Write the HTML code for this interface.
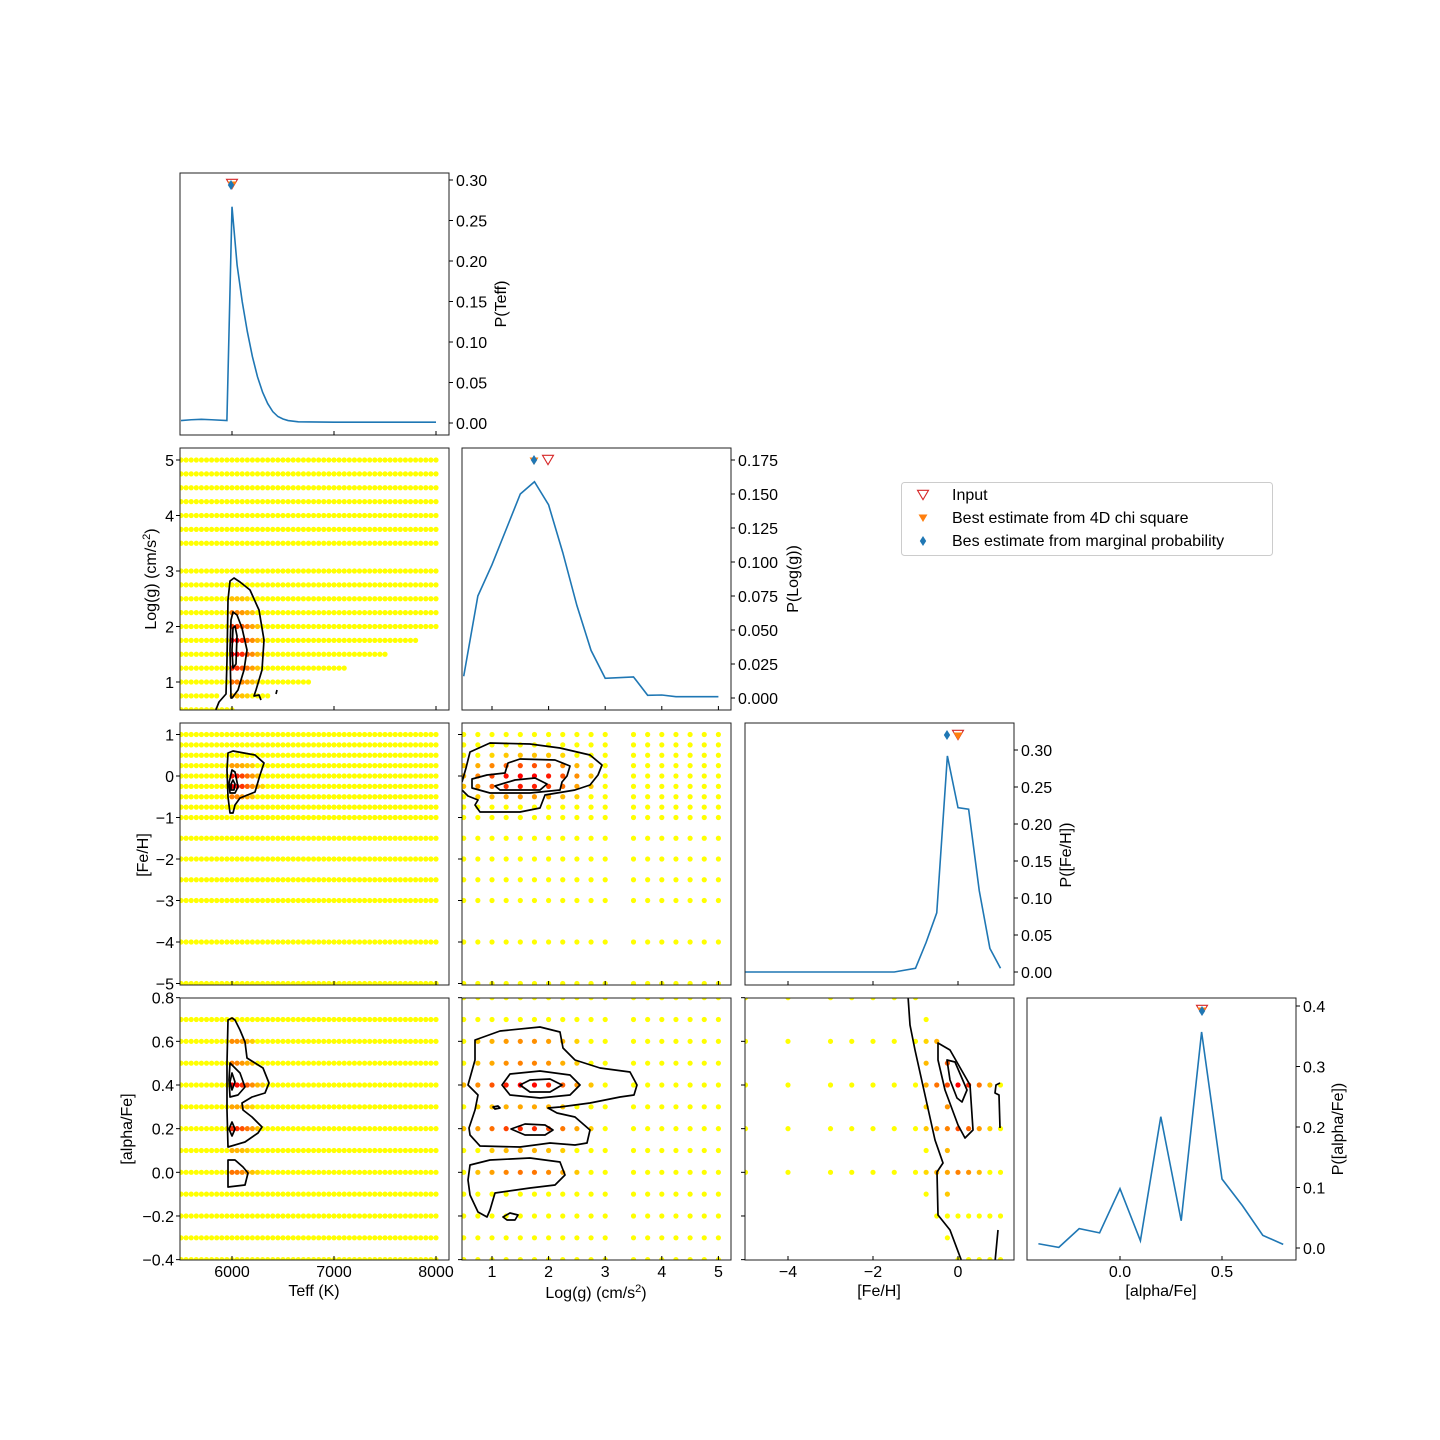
<!DOCTYPE html>
<html><head><meta charset="utf-8"><style>
html,body{margin:0;padding:0;background:#fff;}
svg{display:block;font-family:"Liberation Sans","DejaVu Sans",sans-serif;}
</style></head><body>
<svg id="s" width="1440" height="1440" viewBox="0 0 1440 1440" xmlns="http://www.w3.org/2000/svg">
<text x="0" y="-10">.</text>
</svg>
<script>
let out=[];
const cols=[[180,449],[462,731],[745,1014],[1027,1296]];
const rows=[[173,435],[448,710],[723,985],[998,1260]];
const T=v=>232+(v-6000)*0.102;
const GX=g=>492+(g-1)*56.6;
const GY=g=>460+(5-g)*55.5;
const FY=f=>776-41.5*f;
const FX=f=>958+42.5*f;
const AY=a=>1085-218.3*(a-0.4);
const AX=a=>1120+204*a;
const r2=v=>Math.round(v*100)/100;
let Teffs=[];for(let t=5500;t<=8000;t+=50)Teffs.push(t);
let Loggs=[];for(let g=0.5;g<=5.001;g+=0.25){if(Math.abs(g-3.25)>0.01)Loggs.push(r2(g));}
const FeHs=[-5,-4,-3,-2.5,-2,-1.5,-1,-0.75,-0.5,-0.25,0,0.25,0.5,0.75,1];
let Alphas=[];for(let a=-0.4;a<=0.801;a+=0.1)Alphas.push(r2(a));
function col(I){if(I<0.15)return "#ffff00";I=Math.min(1,I);let g=Math.round(255*(1-I));return "rgb(255,"+g+",0)";}
function dot(x,y,I){out.push(`<circle cx="${r2(x)}" cy="${r2(y)}" r="2.6" fill="${col(I)}"/>`);}
const Tf=t=>t<6000?0:Math.exp(-Math.pow((t-6000)/220,2));
const Gf=g=>Math.exp(-Math.pow((g-1.6)/0.75,2));
const Gf2=g=>Math.exp(-Math.pow((g-1.6)/0.95,2));
const Ff=f=>Math.exp(-Math.pow((f+0.15)/0.4,2));
const Ff2=f=>Math.exp(-Math.pow((f+0.05)/0.45,2));
const A={"0.8":0,"0.7":0.15,"0.6":0.45,"0.5":0.5,"0.4":1,"0.3":0.35,"0.2":0.85,"0.1":0.3,"0":0.55,"-0.1":0.12};
const Af=a=>A[String(r2(a))]||0;
out.push('<defs>');
for(let r=0;r<4;r++)for(let c=0;c<4;c++)out.push(`<clipPath id="c${r}${c}"><rect x="${cols[c][0]}" y="${rows[r][0]}" width="${cols[c][1]-cols[c][0]}" height="${rows[r][1]-rows[r][0]}"/></clipPath>`);
out.push('</defs>');
function maxT(g){if(g>=2)return 8000;return {1.75:7800,1.5:7500,1.25:7100,1:6750,0.75:6350,0.5:6000}[g];}
out.push('<g clip-path="url(#c10)">');
for(const g of Loggs)for(const t of Teffs){if(t>maxT(g))continue;if(g==0.75&&(t==5900||t==5950))continue;dot(T(t),GY(g),Tf(t)*Gf(g)*1.05);}
out.push('</g>');
out.push('<g clip-path="url(#c20)">');
for(const f of FeHs)for(const t of Teffs)dot(T(t),FY(f),Tf(t)*Ff(f)*1.05);
out.push('</g>');
out.push('<g clip-path="url(#c30)">');
for(const a of Alphas)for(const t of Teffs){if(a>0.75)continue;dot(T(t),AY(a),Tf(t)*Af(a));}
out.push('</g>');
out.push('<g clip-path="url(#c21)">');
for(const f of FeHs)for(const g of Loggs)dot(GX(g),FY(f),Gf2(g)*Ff2(f)*1.1);
out.push('</g>');
out.push('<g clip-path="url(#c31)">');
for(const a of Alphas)for(const g of Loggs)dot(GX(g),AY(a),Gf2(g)*Af(a));
out.push('</g>');
const F3={"-0.75":0.3,"-0.5":0.55,"-0.25":0.7,"0":1,"0.25":0.85,"0.5":0.55,"0.75":0.25,"1":0.1};
const A3={"0.6":0.55,"0.5":0.9,"0.4":1,"0.3":0.6,"0.2":0.7,"0.1":0.4,"0":0.5,"-0.1":0.3};
const f3=f=>F3[String(f)]||0, a3=a=>A3[String(r2(a))]||0;
out.push('<g clip-path="url(#c32)">');
for(const f of FeHs){
  let al;
  if(f<=-1) al=[0.8,0.6,0.4,0.2,0];
  else if(f==-0.75) al=[0.7,0.6,0.5,0.4,0.3,0.2,0.1,0,-0.1];
  else if(f==-0.5) al=[0.6,0.4,0.2,0,-0.2];
  else if(f==-0.25) al=[0.5,0.4,0.3,0.2,0.1,0,-0.1,-0.2,-0.3];
  else al=[0.4,0.2,0,-0.2,-0.4];
  for(const a of al)dot(FX(f),AY(a),f3(f)*a3(a));
}
out.push('</g>');
function P(d,c){out.push(`<path d="${d}" fill="none" stroke="#000" stroke-width="1.7" stroke-linejoin="round" clip-path="url(#c${c})"/>`);}
P("M215 712 L219 702 L226 694 L227 660 L228 600 L230 581 L234 578 L240 582 L250 590 L259 610 L264 640 L262 670 L256 690 L254 696 L259 695 L261 700","10");
P("M231 698 L230 650 L231 620 L233 612 L237 615 L242 628 L247 650 L244 670 L238 690 L232 698 Z","10");
P("M233 628 L235 626 L237 636 L236 664 L233 668 L232 650 Z","10");
P("M277 690 L276 694","10");
P("M228 753 L233 751 L255 755 L264 763 L260 775 L255 792 L240 798 L235 805 L233 813 L230 813 L228 797 L227 770 Z","20");
P("M229 783 L232 770 L235 772 L238 787 L235 793 L230 793 Z","20");
P("M233 780 L235 784 L234 790 L231 790 L231 784 Z","20");
P("M228 1020 L232 1018 L235 1020 L240 1030 L245 1042 L247 1058 L255 1063 L263 1068 L269 1083 L265 1093 L252 1097 L242 1103 L243 1110 L252 1117 L262 1127 L258 1133 L245 1142 L228 1147 L227 1110 L227 1063 Z","30");
P("M230 1063 L240 1073 L245 1087 L238 1095 L230 1097 L229 1080 Z","30");
P("M232 1073 L235 1082 L232 1090 L230 1082 Z","30");
P("M232 1122 L235 1129 L232 1136 L229 1129 Z","30");
P("M228 1160 L235 1160 L243 1167 L248 1173 L245 1185 L228 1187 Z","30");
P("M462 782 L466 768 L470 752 L490 743 L530 744 L560 748 L590 755 L602 765 L598 775 L590 785 L575 790 L545 795 L540 808 L520 812 L480 812 L475 805 L478 800 L468 796 L462 790","21");
P("M472 785 L472 779 L487 775 L505 773 L508 763 L520 759 L555 760 L570 766 L567 776 L562 782 L560 790 L530 793 L490 793 L472 788 Z","21");
P("M495 786 L515 780 L535 778 L547 784 L540 790 L500 790 Z","21");
P("M475 1040 L500 1031 L540 1027 L560 1032 L563 1048 L575 1060 L600 1068 L630 1072 L637 1085 L634 1095 L620 1097 L590 1103 L560 1107 L548 1108 L557 1113 L575 1117 L590 1130 L587 1143 L575 1145 L550 1143 L520 1147 L480 1146 L470 1135 L469 1128 L475 1110 L478 1095 L468 1085 L475 1060 Z","31");
P("M502 1085 L510 1074 L540 1071 L570 1075 L580 1085 L570 1095 L540 1098 L510 1095 Z","31");
P("M520 1085 L530 1080 L550 1079 L562 1085 L550 1092 L530 1092 Z","31");
P("M511 1129 L525 1124 L545 1125 L553 1130 L545 1135 L525 1135 Z","31");
P("M470 1165 L490 1160 L530 1158 L560 1162 L565 1175 L555 1185 L530 1188 L495 1193 L490 1210 L487 1217 L478 1212 L470 1195 L468 1180 Z","31");
P("M503 1217 L510 1213 L518 1215 L515 1220 L507 1220 Z","31");
P("M493 1107 L498 1106 L500 1108 L495 1109 Z","31");
P("M908 996 L910 1025 L915 1050 L925 1095 L935 1140 L943 1163 L937 1172 L938 1215 L950 1230 L962 1262","32");
P("M998 1230 L995 1262","32");
P("M938 1043 L950 1050 L970 1085 L973 1130 L965 1138 L958 1125 L945 1090 L938 1060 Z","32");
P("M947 1060 L955 1062 L967 1090 L962 1102 L957 1098 L950 1080 Z","32");
P("M1000 1128 L999 1095 L995 1093 L996 1085 L1000 1083","32");
function line(pts,c){out.push(`<polyline points="${pts.map(p=>r2(p[0])+','+r2(p[1])).join(' ')}" fill="none" stroke="#1f77b4" stroke-width="1.6" clip-path="url(#c${c})"/>`);}
const pT=[[5500,0.003],[5600,0.004],[5700,0.0045],[5800,0.004],[5950,0.003],[6000,0.267],[6050,0.195],[6100,0.15],[6150,0.113],[6200,0.082],[6250,0.057],[6300,0.038],[6350,0.024],[6400,0.014],[6450,0.008],[6500,0.005],[6550,0.003],[6650,0.0015],[7000,0.001],[8000,0.001]];
line(pT.map(p=>[T(p[0]),423-810*p[1]]),"00");
const pG=[[0.5,0.016],[0.75,0.075],[1,0.098],[1.25,0.124],[1.5,0.150],[1.75,0.159],[2,0.142],[2.25,0.107],[2.5,0.068],[2.75,0.035],[3,0.0145],[3.5,0.0155],[3.75,0.002],[4,0.0022],[4.25,0.001],[5,0.001]];
line(pG.map(p=>[GX(p[0]),698-1360*p[1]]),"11");
const pF=[[-5,0],[-4,0],[-3,0],[-2.5,0],[-2,0],[-1.5,0],[-1,0.005],[-0.75,0.04],[-0.5,0.08],[-0.25,0.292],[0,0.222],[0.25,0.22],[0.5,0.11],[0.75,0.032],[1,0.005]];
line(pF.map(p=>[FX(p[0]),972-740*p[1]]),"22");
const pA=[[-0.4,0.007],[-0.3,0.001],[-0.2,0.032],[-0.1,0.025],[0,0.098],[0.1,0.012],[0.2,0.217],[0.3,0.045],[0.4,0.357],[0.5,0.114],[0.6,0.07],[0.7,0.021],[0.8,0.006]];
line(pA.map(p=>[AX(p[0]),1248-605*p[1]]),"33");
function tri(x,y,s,fill,stroke){out.push(`<polygon points="${x-s},${y-s*0.85} ${x+s},${y-s*0.85} ${x},${y+s*0.85}" fill="${fill}" stroke="${stroke}" stroke-width="1.1"/>`);}
function dia(x,y){out.push(`<polygon points="${x},${y-5} ${x+3.2},${y} ${x},${y+5} ${x-3.2},${y}" fill="#1f77b4"/>`);}
tri(232,184,5.5,"none","#d62728");tri(232,185,3.5,"#ff7f0e","#ff7f0e");dia(231,185);
tri(548,460,5.5,"none","#d62728");tri(534,461,3.5,"#ff7f0e","#ff7f0e");dia(534,460);
tri(958,735,5.5,"none","#d62728");tri(958,736,3.5,"#ff7f0e","#ff7f0e");dia(947,735);
tri(1202,1010,5.5,"none","#d62728");tri(1202,1011,3.5,"#ff7f0e","#ff7f0e");dia(1202,1011);
const frames=[[0,0],[1,0],[1,1],[2,0],[2,1],[2,2],[3,0],[3,1],[3,2],[3,3]];
for(const [r,c] of frames){const [x0,x1]=cols[c],[y0,y1]=rows[r];out.push(`<rect x="${x0}" y="${y0}" width="${x1-x0}" height="${y1-y0}" fill="none" stroke="#222" stroke-width="1"/>`);}
function txt(x,y,s,anchor,extra){out.push(`<text x="${r2(x)}" y="${r2(y)}" font-size="16" text-anchor="${anchor||'middle'}" fill="#000" ${extra||''}>${s}</text>`);}
function hT(x,y,len){out.push(`<line x1="${x}" y1="${r2(y)}" x2="${x+len}" y2="${r2(y)}" stroke="#000" stroke-width="1"/>`);}
function vT(x,y,len){out.push(`<line x1="${r2(x)}" y1="${y}" x2="${r2(x)}" y2="${y+len}" stroke="#000" stroke-width="1"/>`);}
const mm=v=>v<0?"\u2212"+(-v):String(v);
function rightAx(x,vals,fy,fmt){for(const v of vals){const y=fy(v);hT(x,y,4);txt(x+7,y+6,fmt(v),'start');}}
rightAx(449,[0,0.05,0.1,0.15,0.2,0.25,0.3],v=>423-810*v,v=>v.toFixed(2));
rightAx(731,[0,0.025,0.05,0.075,0.1,0.125,0.15,0.175],v=>698-1360*v,v=>v.toFixed(3));
rightAx(1014,[0,0.05,0.1,0.15,0.2,0.25,0.3],v=>972-740*v,v=>v.toFixed(2));
rightAx(1296,[0,0.1,0.2,0.3,0.4],v=>1248-605*v,v=>v.toFixed(1));
function leftAx(c,vals,fy,lab){const x=cols[c][0];for(const v of vals){const y=fy(v);hT(x-4,y,4);if(lab)txt(x-6,y+6,lab(v),'end');}}
for(let c=0;c<3;c++)leftAx(c,[-0.4,-0.2,0,0.2,0.4,0.6,0.8],AY,c==0?v=>(v<0?"\u2212":"")+Math.abs(v).toFixed(1):null);
leftAx(0,[1,2,3,4,5],GY,v=>String(v));
for(let c=0;c<2;c++)leftAx(c,[-5,-4,-3,-2,-1,0,1],FY,c==0?mm:null);
function botAx(c,r,vals,fx,lab){const y=rows[r][1];for(const v of vals){const x=fx(v);vT(x,y-4,4);if(lab)txt(x,y+17,lab(v));}}
for(let r=0;r<4;r++)botAx(0,r,[6000,7000,8000],T,r==3?String:null);
for(let r=1;r<4;r++)botAx(1,r,[1,2,3,4,5],GX,r==3?String:null);
for(let r=2;r<4;r++)botAx(2,r,[-4,-2,0],FX,r==3?mm:null);
botAx(3,3,[0,0.5],AX,v=>v.toFixed(1));
txt(314,1296,"Teff (K)");
txt(596,1298,'Log(g) (cm/s<tspan font-size="11" dy="-6">2</tspan><tspan dy="6">)</tspan>');
txt(879,1296,"[Fe/H]");
txt(1161,1296,"[alpha/Fe]");
txt(0,0,"P(Teff)","middle",'transform="translate(506,304) rotate(-90)"');
txt(0,0,"P(Log(g))","middle",'transform="translate(798,579) rotate(-90)"');
txt(0,0,"P([Fe/H])","middle",'transform="translate(1071,855) rotate(-90)"');
txt(0,0,"P([alpha/Fe])","middle",'transform="translate(1343,1129) rotate(-90)"');
txt(0,0,'Log(g) (cm/s<tspan font-size="11" dy="-6">2</tspan><tspan dy="6">)</tspan>',"middle",'transform="translate(156,579) rotate(-90)"');
txt(0,0,"[Fe/H]","middle",'transform="translate(148,855) rotate(-90)"');
txt(0,0,"[alpha/Fe]","middle",'transform="translate(132,1129) rotate(-90)"');
out.push('<rect x="901.5" y="482.5" width="371" height="73" rx="3" fill="#fff" stroke="#ccc"/>');
tri(923,495,5.5,"none","#d62728");
tri(923,518,3.5,"#ff7f0e","#ff7f0e");
dia(923,541);
txt(952,500,"Input","start");
txt(952,523,"Best estimate from 4D chi square","start");
txt(952,546,"Bes estimate from marginal probability","start");
document.getElementById('s').innerHTML=out.join('');
</script>
</body></html>
